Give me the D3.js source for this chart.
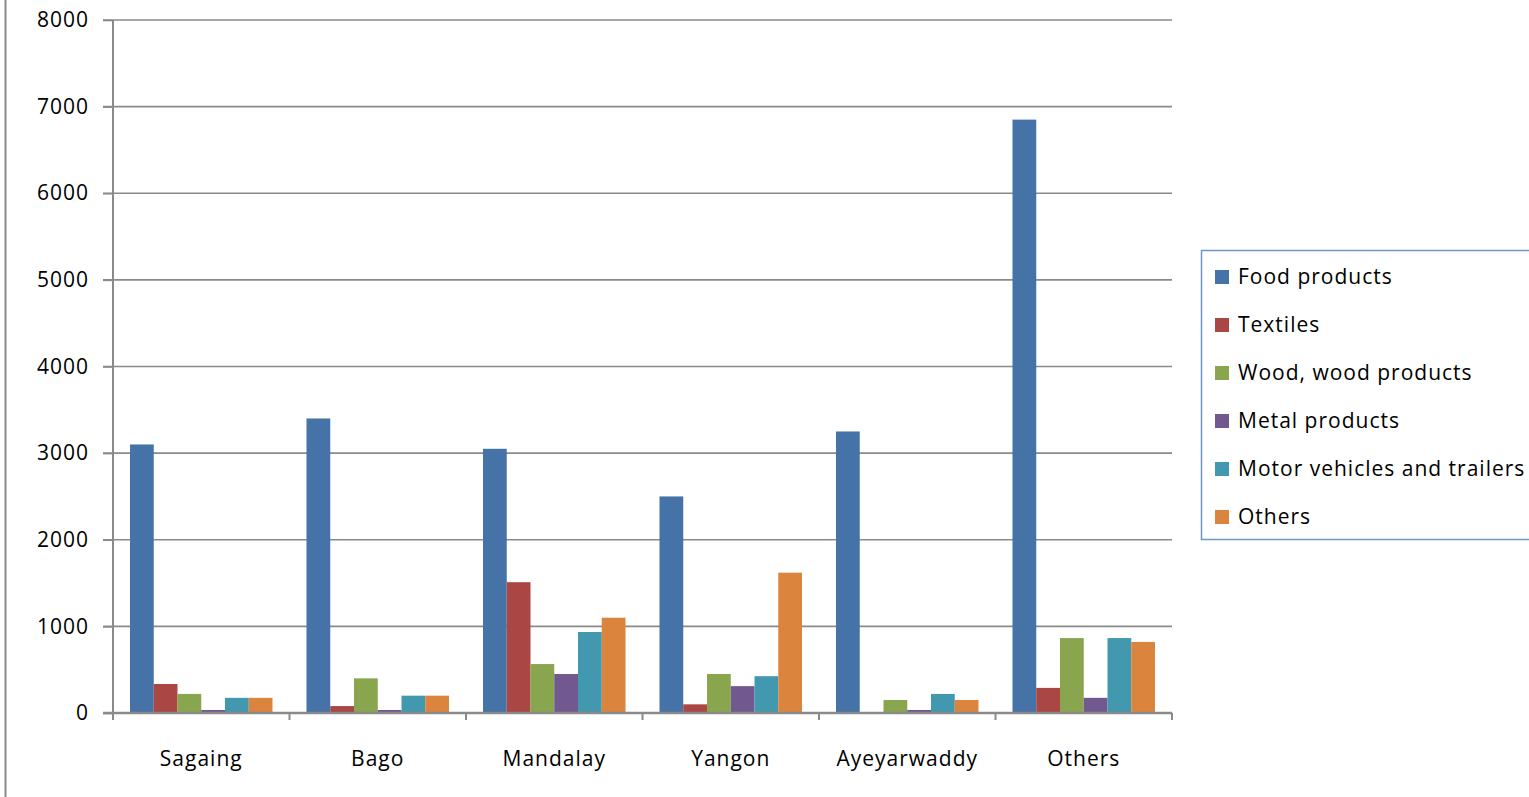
<!DOCTYPE html>
<html>
<head>
<meta charset="utf-8">
<script src="https://cdn.jsdelivr.net/npm/d3@7"></script>
<style>
  body { margin: 0; background: #fff; }
  svg { display: block; }
  svg text { font-family: "Open Sans", Lato, sans-serif; letter-spacing: 1px; }
</style>
</head>
<body>
<svg id="chart"></svg>
<script>
// regions along the x axis
var regions = ["Sagaing", "Bago", "Mandalay", "Yangon", "Ayeyarwaddy", "Others"];
var seriesNames = ["Food products", "Textiles", "Wood, wood products", "Metal products", "Motor vehicles and trailers", "Others"];
var seriesColors = ["#4572A7", "#AA4643", "#89A54E", "#71588F", "#4198AF", "#DB843D"];

// one array per series, in region order
var foodProducts = [3100, 3400, 3050, 2500, 3250, 6850];
var textiles     = [335, 80, 1510, 100, 0, 290];
var woodProducts = [220, 400, 565, 450, 150, 865];
var metalProducts = [35, 35, 450, 310, 35, 175];
var motorVehicles = [175, 200, 935, 425, 220, 865];
var otherProducts = [175, 200, 1100, 1620, 150, 820];
var yTicks = [0, 1000, 2000, 3000, 4000, 5000, 6000, 7000, 8000];

var allSeries = [foodProducts, textiles, woodProducts, metalProducts, motorVehicles, otherProducts];

var width = 1529, height = 797;
var svg = d3.select("#chart").attr("width", width).attr("height", height);

var plotLeft = 113, plotRight = 1172, plotTop = 20, plotBottom = 713;

var x0 = d3.scaleBand().domain(regions).range([plotLeft, plotRight]).paddingInner(0).paddingOuter(0);
var x1 = d3.scaleBand().domain(d3.range(seriesNames.length))
  .range([17, x0.bandwidth() - 17]).padding(0);
var y = d3.scaleLinear().domain([0, 8000]).range([plotBottom, plotTop]);

// frame line on the left edge
svg.append("line")
  .attr("x1", 5.5).attr("x2", 5.5).attr("y1", 0).attr("y2", height)
  .attr("stroke", "#8c8c8c").attr("stroke-width", 2);

// gridlines
svg.append("g").selectAll("line")
  .data(yTicks.filter(d => d > 0))
  .enter().append("line")
  .attr("x1", plotLeft - 10).attr("x2", plotRight)
  .attr("y1", d => y(d)).attr("y2", d => y(d))
  .attr("stroke", "#8a8a8a").attr("stroke-width", 1.6);

// bars
var groups = svg.append("g").selectAll("g")
  .data(regions)
  .enter().append("g")
  .attr("transform", d => "translate(" + x0(d) + ",0)");

groups.selectAll("rect")
  .data((d, i) => allSeries.map((s, j) => ({ s: j, v: s[i] })))
  .enter().append("rect")
  .attr("x", d => x1(d.s))
  .attr("width", x1.bandwidth())
  .attr("y", d => y(d.v))
  .attr("height", d => y(0) - y(d.v))
  .attr("fill", d => seriesColors[d.s]);

// y axis
var yAxis = svg.append("g")
  .attr("transform", "translate(" + plotLeft + ",0)")
  .call(d3.axisLeft(y).tickValues(yTicks).tickSize(10).tickPadding(14).tickFormat(d3.format("d")));
yAxis.attr("font-family", null);
yAxis.select(".domain").attr("stroke", "#8a8a8a").attr("stroke-width", 2).attr("d", "M0," + plotTop + "V" + plotBottom);
yAxis.selectAll(".tick line").attr("stroke", "#8a8a8a").attr("stroke-width", 1.6);
yAxis.selectAll("text").style("font-size", "21px").attr("fill", "#000");

// x axis
var xAxis = svg.append("g")
  .attr("transform", "translate(0," + plotBottom + ")")
  .call(d3.axisBottom(x0).tickSize(0).tickPadding(38));
xAxis.attr("font-family", null);
xAxis.select(".domain").attr("stroke", "#8a8a8a").attr("stroke-width", 2.5).attr("d", "M" + (plotLeft - 10) + ",0H" + plotRight);
xAxis.selectAll("text").style("font-size", "21px").attr("fill", "#000");

// category separators
svg.append("g").selectAll("line")
  .data(regions.map(r => x0(r)).concat([plotRight]))
  .enter().append("line")
  .attr("x1", d => d).attr("x2", d => d)
  .attr("y1", plotBottom).attr("y2", plotBottom + 7)
  .attr("stroke", "#8a8a8a").attr("stroke-width", 2);

// legend
var legend = svg.append("g").attr("transform", "translate(1201,250)");
legend.append("rect")
  .attr("x", 0.5).attr("y", 0.5).attr("width", 340).attr("height", 289)
  .attr("fill", "#fff").attr("stroke", "#6f95c8").attr("stroke-width", 1.5);

var items = legend.selectAll("g.item")
  .data(seriesNames)
  .enter().append("g")
  .attr("class", "item")
  .attr("transform", (d, i) => "translate(14," + (27 + i * 48) + ")");

items.append("rect")
  .attr("x", 0).attr("y", -7).attr("width", 14).attr("height", 14)
  .attr("fill", (d, i) => seriesColors[i]);

items.append("text")
  .attr("x", 23).attr("y", 0).attr("dy", "0.35em")
  .style("font-size", "21px")
  .text(d => d);
</script>
</body>
</html>
